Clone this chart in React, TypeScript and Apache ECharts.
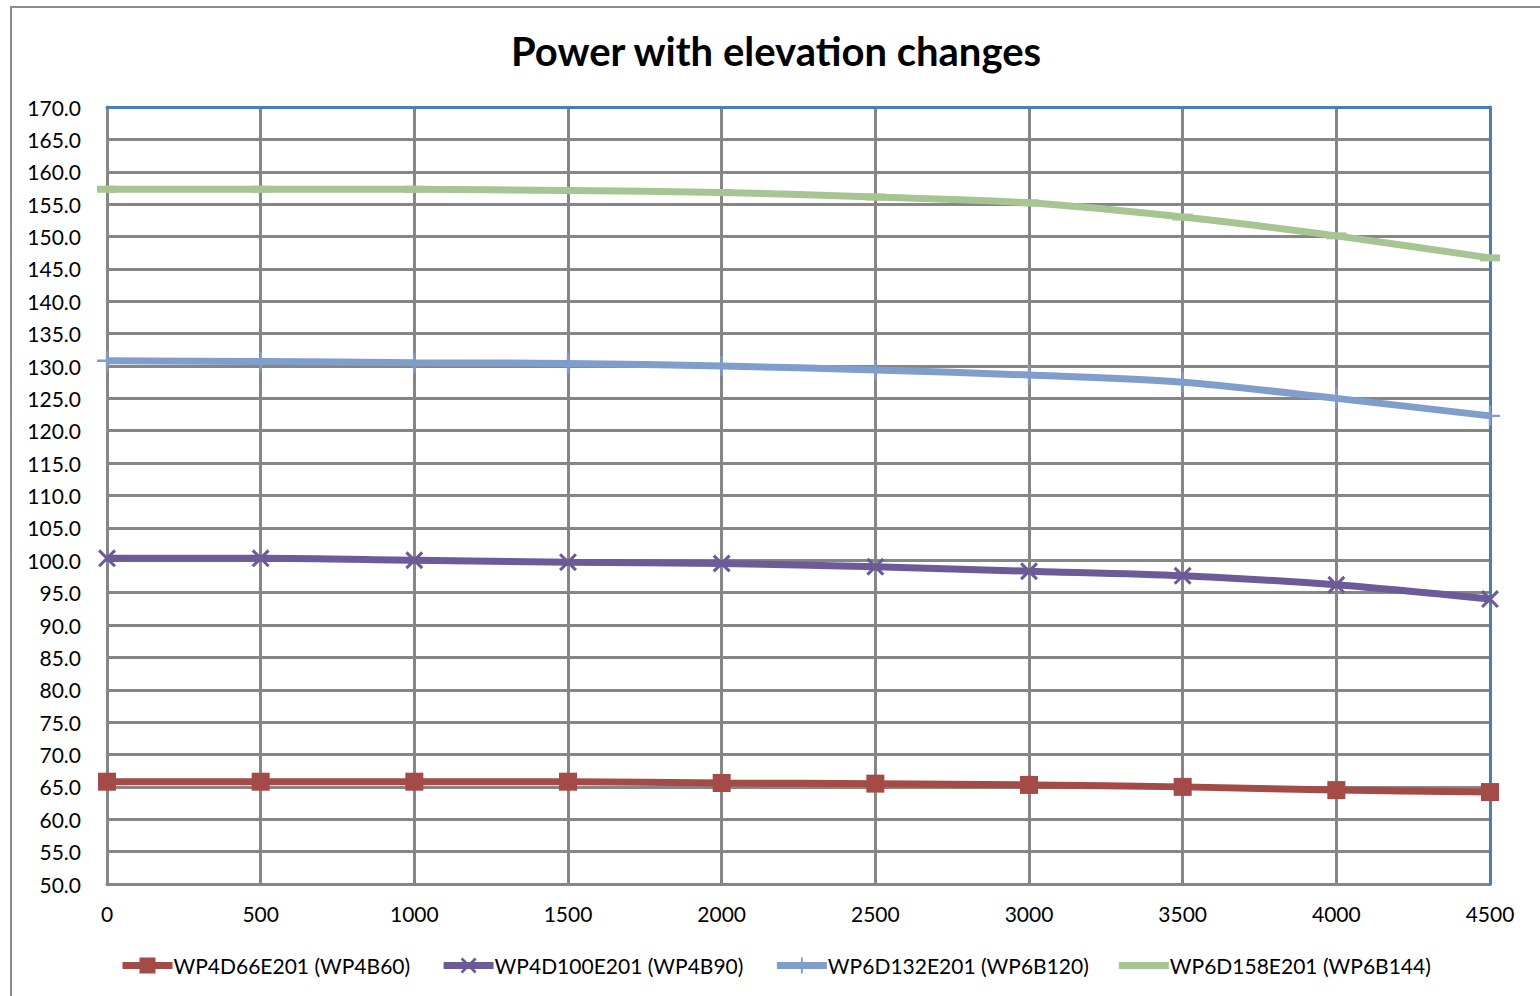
import React, { useEffect, useRef } from "react";
import * as echarts from "echarts";

const elevations = [0, 500, 1000, 1500, 2000, 2500, 3000, 3500, 4000, 4500];
const seriesNames = [
  "WP4D66E201 (WP4B60)",
  "WP4D100E201 (WP4B90)",
  "WP6D132E201 (WP6B120)",
  "WP6D158E201 (WP6B144)",
];
const wp4b60 = [65.8, 65.8, 65.8, 65.8, 65.6, 65.5, 65.3, 65.0, 64.5, 64.2];
const wp4b90 = [100.3, 100.3, 100.0, 99.7, 99.5, 99.0, 98.3, 97.6, 96.2, 94.0];
const wp6b120 = [130.8, 130.7, 130.5, 130.4, 130.0, 129.4, 128.6, 127.5, 125.0, 122.3];
const wp6b144 = [157.3, 157.3, 157.3, 157.1, 156.8, 156.1, 155.2, 153.0, 150.1, 146.7];

const FONT = "Lato";
const GRID = "#868686";
const BLUE = "#4a7ebb";

const crossPath = "path://M0,1.2 L1.2,0 L10,8.8 L8.8,10 Z M8.8,0 L10,1.2 L1.2,10 L0,8.8 Z";
const plusPath = "path://M0,4.4 L10,4.4 L10,5.6 L0,5.6 Z M4.4,0 L5.6,0 L5.6,10 L4.4,10 Z";
const bandIcon =
  "path://M0,0 L0,0.01 L0.01,0 Z M0,6.5 L50,6.5 L50,13.5 L0,13.5 Z M50,20 L50,19.99 L49.99,20 Z";

export default function App() {
  const ref = useRef<HTMLDivElement>(null);
  useEffect(() => {
    if (!ref.current) return;
    const chart = echarts.init(ref.current, null, { renderer: "svg" });
    const pair = (arr: number[]) => elevations.map((x, i) => [x, arr[i]]);
    chart.setOption({
      animation: false,
      backgroundColor: "#ffffff",
      title: {
        text: "Power with elevation changes",
        left: 771,
        textAlign: "center",
        top: 26,
        textStyle: { fontFamily: FONT, fontWeight: "bold", fontSize: 40, color: "#000" },
      },
      graphic: [
        {
          type: "rect",
          shape: { x: 11, y: 7, width: 1700, height: 1200 },
          style: { fill: "none", stroke: "#8c8c8c", lineWidth: 2 },
          silent: true,
        },
      ],
      grid: { left: 107, right: 50, top: 107, bottom: 112 },
      legend: {
        left: 114,
        top: 950,
        itemWidth: 50,
        itemHeight: 20,
        itemGap: 30,
        lineStyle: { width: 7 },
        textStyle: { fontFamily: FONT, fontSize: 21, color: "#000", padding: [0, 0, 0, -4] },
        data: [
          { name: seriesNames[0] },
          { name: seriesNames[1] },
          { name: seriesNames[2] },
          { name: seriesNames[3], icon: bandIcon },
        ],
      },
      xAxis: [
        {
          type: "value",
          min: 0,
          max: 4500,
          interval: 500,
          axisLine: { show: true, lineStyle: { color: GRID, width: 3 } },
          axisTick: { show: false },
          axisLabel: {
            fontFamily: FONT,
            fontSize: 21,
            color: "#000",
            margin: 19,
            formatter: (v: number) => String(v),
          },
          splitLine: { show: true, lineStyle: { color: GRID, width: 3 } },
        },
        {
          type: "value",
          position: "top",
          min: 0,
          max: 4500,
          z: 5,
          axisLine: { show: true, onZero: false, lineStyle: { color: BLUE, width: 3 } },
          axisTick: { show: false },
          axisLabel: { show: false },
          splitLine: { show: false },
        },
      ],
      yAxis: [
        {
          type: "value",
          min: 50,
          max: 170,
          interval: 5,
          axisLine: { show: true, lineStyle: { color: GRID, width: 3 } },
          axisTick: { show: false },
          axisLabel: {
            fontFamily: FONT,
            fontSize: 21,
            color: "#000",
            margin: 26,
            formatter: (v: number) => v.toFixed(1),
          },
          splitLine: { show: true, lineStyle: { color: GRID, width: 3 } },
        },
        {
          type: "value",
          position: "right",
          min: 50,
          max: 170,
          z: 5,
          axisLine: { show: true, onZero: false, lineStyle: { color: BLUE, width: 3 } },
          axisTick: { show: false },
          axisLabel: { show: false },
          splitLine: { show: false },
        },
      ],
      series: [
        {
          name: seriesNames[0],
          type: "line",
          smooth: 0.3,
          z: 10,
          data: pair(wp4b60),
          symbol: "rect",
          symbolSize: 18,
          color: "#a44a47",
          lineStyle: { width: 7, color: "#a44a47" },
          itemStyle: { color: "#a44a47" },
        },
        {
          name: seriesNames[1],
          type: "line",
          smooth: 0.3,
          z: 10,
          data: pair(wp4b90),
          symbol: crossPath,
          symbolSize: 18,
          color: "#6d5a98",
          lineStyle: { width: 7, color: "#6d5a98" },
          itemStyle: { color: "#6d5a98" },
        },
        {
          name: seriesNames[2],
          type: "line",
          smooth: 0.3,
          z: 10,
          data: pair(wp6b120),
          symbol: plusPath,
          symbolSize: 20,
          color: "#7f9ecb",
          lineStyle: { width: 7, color: "#7f9ecb" },
          itemStyle: { color: "#7f9ecb" },
        },
        {
          name: seriesNames[3],
          type: "line",
          smooth: 0.3,
          z: 10,
          data: pair(wp6b144),
          symbol: "rect",
          symbolSize: [20, 7],
          color: "#a7c593",
          lineStyle: { width: 7, color: "#a7c593" },
          itemStyle: { color: "#a7c593" },
        },
      ],
    });
    return () => chart.dispose();
  }, []);
  return (
    <div
      ref={ref}
      style={{ position: "absolute", left: 0, top: 0, width: 1540, height: 996 }}
    />
  );
}
